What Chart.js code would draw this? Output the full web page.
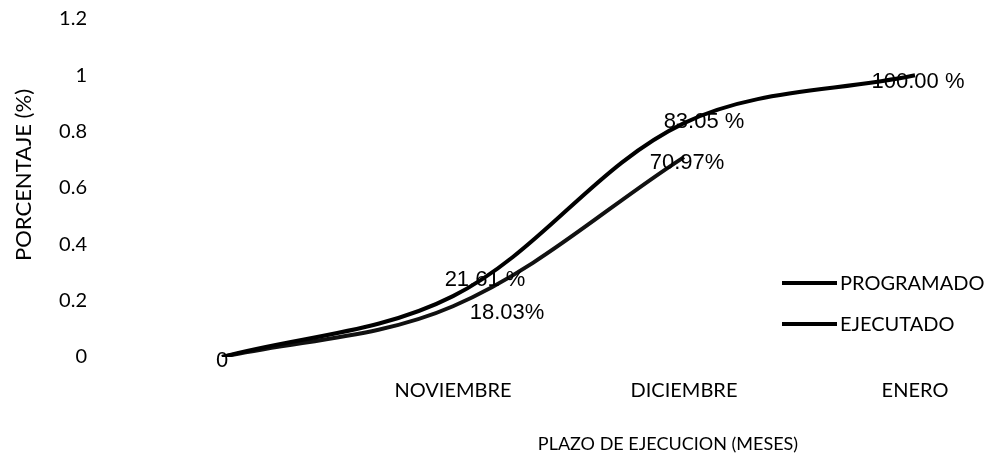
<!DOCTYPE html>
<html>
<head>
<meta charset="utf-8">
<script src="https://cdn.jsdelivr.net/npm/chart.js@4.4.0/dist/chart.umd.min.js"></script>
<style>
  html, body { margin: 0; padding: 0; background: #fff; }
  #wrap { width: 991px; height: 464px; }
</style>
</head>
<body>
<div id="wrap"><canvas id="curvaS"></canvas></div>
<script>
// data
const meses = ["", "NOVIEMBRE", "DICIEMBRE", "ENERO"];
const programado = [0, 0.2161, 0.8305, 1.0];
const ejecutado = [0, 0.1803, 0.7097];
const etiquetasProgramado = ["0", "21.61 %", "83.05 %", "100.00 %"];
const etiquetasEjecutado = ["", "18.03%", "70.97%"];
const yTicks = [0, 0.2, 0.4, 0.6, 0.8, 1, 1.2];

// where each value label sits relative to its point (px)
const offsetsProgramado = [[0, 4], [32, -16], [20, -1], [3, 7]];
const offsetsEjecutado = [[0, 0], [54, 7], [3, 6]];

const FONT = "Lato, 'Noto Sans', sans-serif";

const extras = {
  id: "extras",
  afterDatasetsDraw(chart) {
    const ctx = chart.ctx;
    ctx.save();
    ctx.fillStyle = "#000";
    ctx.textAlign = "center";
    ctx.textBaseline = "middle";
    ctx.font = "22px 'Liberation Sans', Arial, sans-serif";
    const drawLabels = (dsIndex, labels, offs) => {
      const pts = chart.getDatasetMeta(dsIndex).data;
      pts.forEach((p, i) => {
        if (!labels[i]) return;
        ctx.fillText(labels[i], p.x + offs[i][0], p.y + offs[i][1]);
      });
    };
    drawLabels(0, etiquetasProgramado, offsetsProgramado);
    drawLabels(1, etiquetasEjecutado, offsetsEjecutado);

    // legend, bottom right inside the plot
    ctx.font = "20px " + FONT;
    ctx.textAlign = "left";
    ctx.lineWidth = 4;
    ctx.strokeStyle = "#000";
    chart.data.datasets.forEach((ds, i) => {
      const y = 283 + i * 41;
      ctx.beginPath();
      ctx.moveTo(782, y);
      ctx.lineTo(837, y);
      ctx.stroke();
      ctx.fillText(ds.label, 840, y + 1);
    });

    // axis titles (not centred on the plot in the original)
    ctx.font = "18px " + FONT;
    ctx.textAlign = "center";
    ctx.fillText("PLAZO DE EJECUCION (MESES)", 668, 444);

    ctx.font = "22px " + FONT;
    ctx.translate(24, 175);
    ctx.rotate(-Math.PI / 2);
    ctx.fillText("PORCENTAJE (%)", 0, 0);
    ctx.restore();
  }
};

new Chart(document.getElementById("curvaS"), {
  type: "line",
  data: {
    labels: meses,
    datasets: [
      {
        label: "PROGRAMADO",
        data: programado,
        borderColor: "#000",
        borderWidth: 4,
        pointRadius: 0,
        tension: 0.35,
        fill: false
      },
      {
        label: "EJECUTADO",
        data: ejecutado,
        borderColor: "#111",
        borderWidth: 4,
        pointRadius: 0,
        tension: 0.35,
        fill: false
      }
    ]
  },
  options: {
    responsive: true,
    maintainAspectRatio: false,
    animation: false,
    layout: { padding: { top: 19, right: 76, left: 0, bottom: 0 } },
    plugins: {
      legend: { display: false },
      tooltip: { enabled: false }
    },
    scales: {
      x: {
        type: "category",
        offset: false,
        grid: { display: false, drawTicks: false },
        border: { display: false },
        ticks: {
          color: "#000",
          padding: 22,
          maxRotation: 0,
          autoSkip: false,
          font: { family: FONT, size: 20 }
        },
        afterFit(scale) { scale.height = 107; }
      },
      y: {
        min: 0,
        max: 1.2,
        grid: { display: false, drawTicks: false },
        border: { display: false },
        afterBuildTicks(scale) {
          scale.ticks = yTicks.map(v => ({ value: v }));
        },
        ticks: {
          color: "#000",
          padding: 135,
          font: { family: FONT, size: 20 },
          callback: v => String(Math.round(v * 10) / 10)
        },
        afterFit(scale) {
          scale.width = 222;
          // tick padding would otherwise also pad top/bottom of the plot
          scale.paddingTop = 0;
          scale.paddingBottom = 0;
        }
      }
    }
  },
  plugins: [extras]
});
</script>
</body>
</html>
